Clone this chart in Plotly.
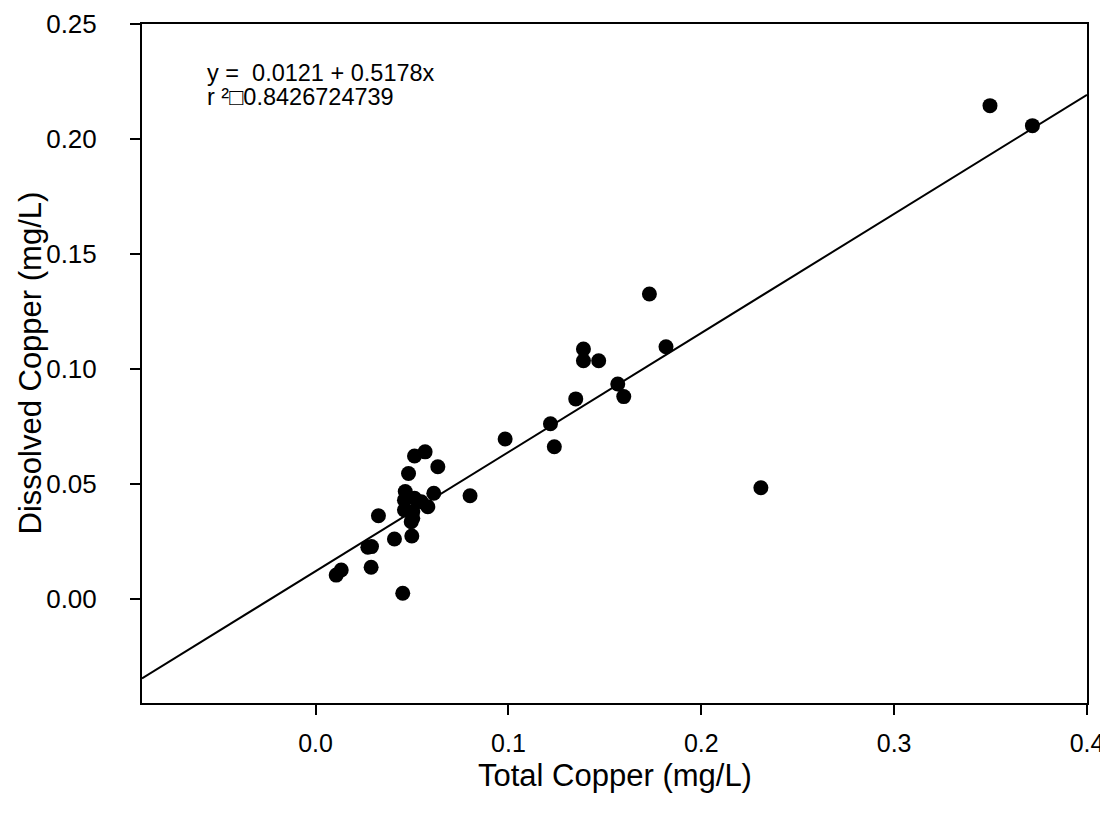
import plotly.graph_objects as go

# Data
total_cu = [0.3497, 0.3717, 0.1731, 0.1817, 0.1389, 0.1389, 0.1468, 0.1567, 0.1598,
            0.1349, 0.1218, 0.1238, 0.0983, 0.2309, 0.0801,
            0.0568, 0.0513, 0.0634, 0.0482, 0.0465, 0.0461, 0.0513, 0.0548, 0.0613,
            0.0582, 0.0461, 0.0504, 0.0504, 0.0496,
            0.0326, 0.0409, 0.0499, 0.0271, 0.0290, 0.0288, 0.0107, 0.0133, 0.0452]
dissolved_cu = [0.2145, 0.2058, 0.1326, 0.1097, 0.1087, 0.1036, 0.1036, 0.0935, 0.0880,
                0.0870, 0.0762, 0.0662, 0.0696, 0.0484, 0.0449,
                0.0640, 0.0622, 0.0575, 0.0546, 0.0467, 0.0430, 0.0438, 0.0423, 0.0460,
                0.0401, 0.0387, 0.0380, 0.0351, 0.0336,
                0.0362, 0.0261, 0.0274, 0.0225, 0.0228, 0.0138, 0.0104, 0.0126, 0.0025]

intercept = 0.0121
slope = 0.5178
r2_text = "0.8426724739"

x_range = [-0.09, 0.4]
y_range = [-0.0452, 0.25]
x_ticks = [0.0, 0.1, 0.2, 0.3, 0.4]
y_ticks = [0.00, 0.05, 0.10, 0.15, 0.20, 0.25]

FONT = "Liberation Sans, Arial, sans-serif"

# figure geometry (page has an 8px body margin)
W, H = 1100, 807
ML, MR, MT, MB = 134, 21, 16, 112
PW, PH = W - ML - MR, H - MT - MB

fig = go.Figure()
fig.add_trace(go.Scatter(
    x=x_range, y=[intercept + slope * v for v in x_range],
    mode="lines", line=dict(color="black", width=2), showlegend=False, hoverinfo="skip"))
fig.add_trace(go.Scatter(
    x=total_cu, y=dissolved_cu, mode="markers",
    marker=dict(color="black", size=15, line=dict(width=0)), showlegend=False))

axis_common = dict(showline=True, linecolor="black", linewidth=2, mirror=True,
                   ticks="outside", ticklen=10, tickwidth=1.5, tickcolor="black",
                   showgrid=False, zeroline=False)

fig.update_xaxes(range=x_range, tickvals=x_ticks, tickformat=".1f",
                 ticklabelstandoff=7, tickfont=dict(family=FONT, size=25, color="black"),
                 **axis_common)
fig.update_yaxes(range=y_range, tickvals=y_ticks, tickformat=".2f",
                 ticklabelstandoff=28, tickfont=dict(family=FONT, size=26, color="black"),
                 **axis_common)

fig.add_annotation(xref="paper", yref="paper", x=(22 - ML) / PW, y=0.5,
                   text="Dissolved Copper (mg/L)", textangle=-90, showarrow=False,
                   xanchor="center", yanchor="middle",
                   font=dict(family=FONT, size=31, color="black"))
fig.add_annotation(xref="paper", yref="paper", x=0.5, y=(H - MB - 767) / PH,
                   text="Total Copper (mg/L)", showarrow=False,
                   xanchor="center", yanchor="middle",
                   font=dict(family=FONT, size=31, color="black"))
fig.add_annotation(xref="paper", yref="paper", x=(197 - ML) / PW, y=(H - MB - 65) / PH,
                   text=f"y =  {intercept:.4f} + {slope:.4f}x",
                   showarrow=False, xanchor="left", yanchor="middle", align="left",
                   font=dict(family=FONT, size=23.5, color="black"))
fig.add_annotation(xref="paper", yref="paper", x=(197 - ML) / PW, y=(H - MB - 89) / PH,
                   text=f"r ²\u25a1{r2_text}",
                   showarrow=False, xanchor="left", yanchor="middle", align="left",
                   font=dict(family=FONT, size=23.5, color="black"))

fig.update_layout(width=W, height=H, paper_bgcolor="white", plot_bgcolor="white",
                  margin=dict(l=ML, r=MR, t=MT, b=MB, autoexpand=False))

fig.write_html("out.html")
